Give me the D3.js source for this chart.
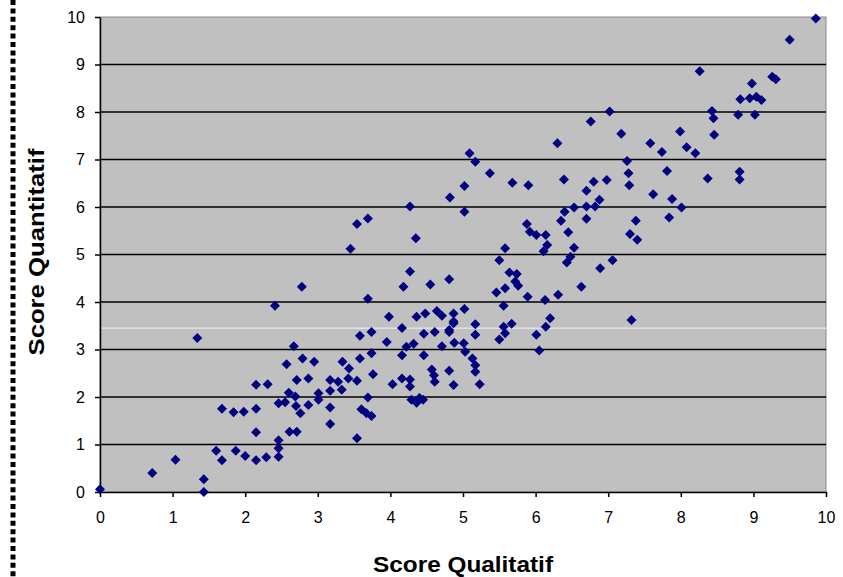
<!DOCTYPE html>
<html>
<head>
<meta charset="utf-8">
<script src="https://cdn.jsdelivr.net/npm/d3@7"></script>
<style>
  body { margin: 0; background: #fff; }
  .axis text { font-family: "Liberation Sans", Arial, sans-serif; font-size: 16px; fill: #000; }
  .axis path, .axis line { stroke: #000; stroke-width: 1.5; }
  .title { font-family: "Liberation Sans", Arial, sans-serif; font-size: 22px; font-weight: bold; fill: #000; }
</style>
</head>
<body>
<div id="scatter"></div>
<script>
var svgWidth = 843;
var svgHeight = 577;

var margin = {
    top: 17,
    right: 17,
    bottom: 85,
    left: 100};

var width = svgWidth - margin.left - margin.right;
var height = svgHeight - margin.top - margin.bottom;

// Score Qualitatif (x) and Score Quantitatif (y)
var qualitatif = [
    0.00, 0.72, 1.04, 1.43, 1.43, 1.34, 1.60, 1.68, 1.68, 1.84,
    1.98, 1.87, 2.00, 2.15, 2.15, 2.31, 2.15, 2.15, 2.29, 2.46,
    2.46, 2.46, 2.46, 2.55, 2.41, 2.57, 2.60, 2.61, 2.67, 2.79,
    2.95, 2.71, 2.87, 2.69, 2.70, 2.76, 2.87, 3.01, 3.01, 2.71,
    3.17, 3.17, 3.17, 3.17, 3.28, 3.33, 3.34, 3.43, 3.42, 3.54,
    3.58, 3.58, 3.74, 3.74, 3.76, 3.69, 3.60, 3.67, 3.74, 3.54,
    3.95, 4.16, 4.16, 4.22, 4.32, 4.46, 4.61, 4.46, 4.03, 4.16,
    4.27, 4.27, 4.29, 4.36, 4.45, 4.40, 4.57, 4.60, 4.61, 4.71,
    4.81, 4.87, 4.88, 4.81, 4.87, 3.98, 4.36, 5.09, 5.17, 5.02,
    4.82, 5.02, 4.27, 3.54, 3.69, 4.35, 3.45, 2.78, 3.69, 4.27,
    4.18, 4.55, 4.81, 4.48, 4.64, 4.71, 4.87, 4.87, 5.02, 5.17,
    5.17, 4.81, 5.13, 5.17, 5.17, 5.23, 5.01, 5.03,
    7.02, 6.76, 7.18, 6.30, 7.26, 7.28, 7.29, 5.37, 5.68, 5.90,
    6.39, 6.80, 6.98, 6.70, 6.88, 6.82, 6.70, 6.53, 6.40, 6.35,
    6.70, 7.38, 7.30, 7.40, 6.45, 6.53, 6.48, 6.43, 6.89, 7.06,
    6.63, 7.32, 5.88, 5.92, 6.01, 6.14, 6.16, 6.11, 5.58, 5.50,
    5.64, 5.74, 5.72, 5.76, 5.58, 5.46, 5.89, 6.13, 6.31, 5.56,
    6.20, 6.14, 6.01, 6.05, 5.67, 5.56, 5.58, 5.50,
    7.99, 8.08, 7.58, 7.74, 7.81, 7.62, 7.88, 8.01, 7.84,
    9.86, 9.50, 8.26, 9.26, 9.31, 8.98, 8.82, 8.95, 9.04, 9.11,
    8.43, 8.45, 8.79, 9.02, 8.46, 8.20, 8.37, 8.81, 8.81
];
var quantitatif = [
    0.06, 0.40, 0.68, 0.27, 0.00, 3.24, 0.87, 0.67, 1.75, 1.68,
    1.69, 0.87, 0.76, 1.75, 2.26, 2.27, 1.26, 0.67, 0.73, 1.09,
    0.92, 0.74, 1.87, 1.89, 3.92, 2.69, 2.09, 1.27, 3.07, 2.81,
    2.74, 2.36, 2.39, 2.01, 1.81, 1.66, 1.83, 2.08, 1.94, 1.27,
    2.36, 2.13, 1.78, 1.43, 2.32, 2.15, 2.74, 2.60, 2.39, 2.34,
    2.81, 3.29, 3.37, 2.92, 2.48, 1.99, 1.74, 1.66, 1.60, 1.13,
    3.16, 3.45, 2.88, 3.06, 3.12, 3.33, 3.37, 2.88, 2.27, 2.39,
    2.37, 2.22, 1.94, 1.88, 1.94, 1.98, 2.58, 2.46, 2.32, 3.07,
    2.55, 2.25, 3.14, 3.41, 3.55, 3.69, 3.69, 7.13, 6.95, 6.44,
    6.20, 5.90, 6.01, 5.64, 5.76, 5.34, 5.12, 4.32, 4.07, 4.64,
    4.32, 4.37, 4.48, 3.76, 3.81, 3.71, 3.76, 3.59, 3.85, 3.53,
    3.31, 3.37, 2.81, 2.67, 2.53, 2.27, 3.13, 2.95,
    8.01, 7.80, 7.54, 7.34, 6.97, 6.71, 6.46, 6.71, 6.51, 6.46,
    6.58, 6.53, 6.57, 6.34, 6.15, 6.01, 6.01, 5.99, 5.90, 5.71,
    5.75, 5.71, 5.43, 5.31, 5.47, 5.14, 4.95, 4.83, 4.71, 4.88,
    4.32, 3.62, 5.64, 5.48, 5.41, 5.41, 5.20, 5.07, 5.13, 4.88,
    4.62, 4.59, 4.43, 4.34, 4.29, 4.20, 4.11, 4.04, 4.15, 3.92,
    3.66, 3.48, 3.31, 2.98, 3.54, 3.48, 3.34, 3.21,
    7.59, 7.26, 7.34, 7.16, 6.76, 6.27, 6.17, 5.99, 5.78,
    9.97, 9.52, 8.86, 8.74, 8.69, 8.60, 8.27, 8.29, 8.32, 8.25,
    8.02, 7.87, 7.94, 7.94, 7.52, 7.13, 6.60, 6.74, 6.58
];
var xTicks = [0, 1, 2, 3, 4, 5, 6, 7, 8, 9, 10];
var yTicks = [0, 1, 2, 3, 4, 5, 6, 7, 8, 9, 10];

var data = qualitatif.map(function(d, i) {
    return {qual: d, quant: quantitatif[i]};
});

var svg = d3.select("#scatter")
    .append("svg")
        .attr("width", svgWidth)
        .attr("height", svgHeight);

// dotted line down the left edge
svg.append("line")
    .attr("x1", 13).attr("x2", 13)
    .attr("y1", 0).attr("y2", svgHeight)
    .style("stroke", "#000")
    .style("stroke-width", 5)
    .style("stroke-dasharray", "5,3.4");

var chartGroup = svg.append("g")
    .attr("transform", `translate(${margin.left}, ${margin.top})`);

var x = d3.scaleLinear().domain([0, 10]).range([0, width]);
var y = d3.scaleLinear().domain([0, 10]).range([height, 0]);

// plot area
chartGroup.append("rect")
    .attr("width", width)
    .attr("height", height)
    .style("fill", "#c0c0c0")
    .style("stroke", "#8a8a8a")
    .style("stroke-width", 1);

// gridlines
chartGroup.selectAll(".grid")
    .data(yTicks.filter(d => d > 0 && d < 10))
    .enter()
    .append("line")
        .attr("class", "grid")
        .attr("x1", 0).attr("x2", width)
        .attr("y1", d => y(d)).attr("y2", d => y(d))
        .style("stroke", "#000")
        .style("stroke-width", 1.6);

// thin light streak across the plot, as in the picture
chartGroup.append("line")
    .attr("x1", 0).attr("x2", width + 2)
    .attr("y1", y(3.45)).attr("y2", y(3.45))
    .style("stroke", "#fff")
    .style("stroke-width", 1)
    .style("opacity", 0.8);

var xAxis = d3.axisBottom(x).tickValues(xTicks).tickSize(5).tickPadding(15).tickSizeOuter(0);
var yAxis = d3.axisLeft(y).tickValues(yTicks).tickSize(5).tickPadding(10).tickSizeOuter(0);

chartGroup.append("g")
    .attr("class", "axis")
    .attr("transform", "translate(0," + height + ")")
    .call(xAxis);

chartGroup.append("g")
    .attr("class", "axis")
    .call(yAxis);

// points
var diamond = d3.symbol().type(d3.symbolSquare).size(50);
chartGroup.selectAll(".dot")
    .data(data)
    .enter()
    .append("path")
        .attr("class", "dot")
        .attr("d", diamond)
        .attr("transform", d => `translate(${x(d.qual)},${y(d.quant)}) rotate(45)`)
        .style("fill", "#000080");

// axis titles
svg.append("text")
    .attr("class", "title")
    .attr("text-anchor", "middle")
    .attr("x", 463)
    .attr("y", 572)
    .attr("textLength", 180)
    .attr("lengthAdjust", "spacingAndGlyphs")
    .text("Score Qualitatif");

svg.append("text")
    .attr("class", "title")
    .attr("text-anchor", "middle")
    .attr("transform", "translate(44,252) rotate(270)")
    .attr("textLength", 207)
    .attr("lengthAdjust", "spacingAndGlyphs")
    .text("Score Quantitatif");
</script>
</body>
</html>
